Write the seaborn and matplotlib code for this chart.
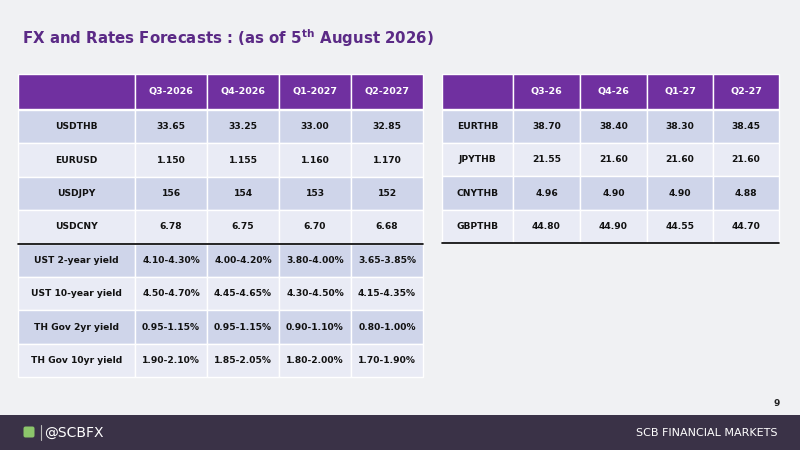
import matplotlib
matplotlib.use("Agg")
import matplotlib.pyplot as plt
import seaborn as sns
from matplotlib.patches import Rectangle, FancyBboxPatch

sns.set_theme(style="white")
plt.rcParams['font.family'] = ['DejaVu Sans']

left_cols = ["Q3-2026", "Q4-2026", "Q1-2027", "Q2-2027"]
left_rows = ["USDTHB", "EURUSD", "USDJPY", "USDCNY",
             "UST 2-year yield", "UST 10-year yield", "TH Gov 2yr yield", "TH Gov 10yr yield"]
usdthb = ["33.65", "33.25", "33.00", "32.85"]
eurusd = ["1.150", "1.155", "1.160", "1.170"]
usdjpy = ["156", "154", "153", "152"]
usdcny = ["6.78", "6.75", "6.70", "6.68"]
ust2 = ["4.10-4.30%", "4.00-4.20%", "3.80-4.00%", "3.65-3.85%"]
ust10 = ["4.50-4.70%", "4.45-4.65%", "4.30-4.50%", "4.15-4.35%"]
th2 = ["0.95-1.15%", "0.95-1.15%", "0.90-1.10%", "0.80-1.00%"]
th10 = ["1.90-2.10%", "1.85-2.05%", "1.80-2.00%", "1.70-1.90%"]
left_vals = [usdthb, eurusd, usdjpy, usdcny, ust2, ust10, th2, th10]

right_cols = ["Q3-26", "Q4-26", "Q1-27", "Q2-27"]
right_rows = ["EURTHB", "JPYTHB", "CNYTHB", "GBPTHB"]
eurthb = ["38.70", "38.40", "38.30", "38.45"]
jpythb = ["21.55", "21.60", "21.60", "21.60"]
cnythb = ["4.96", "4.90", "4.90", "4.88"]
gbpthb = ["44.80", "44.90", "44.55", "44.70"]
right_vals = [eurthb, jpythb, cnythb, gbpthb]

PURPLE = "#7030A0"
ODD = "#CFD5EA"
EVEN = "#E9EBF5"

fig = plt.figure(figsize=(8, 4.5), dpi=100)
fig.patch.set_facecolor("#F0F1F3")
ax = fig.add_axes([0, 0, 1, 1])
ax.set_xlim(0, 800)
ax.set_ylim(450, 0)
ax.axis("off")

def table(xs, y0, hh, rh, cols, rows, vals, line_after=None):
    for i in range(len(xs) - 1):
        ax.add_patch(Rectangle((xs[i], y0), xs[i+1]-xs[i], hh, fc=PURPLE, ec="white", lw=1))
        if i > 0:
            ax.text((xs[i]+xs[i+1])/2, y0+hh/2, cols[i-1], color="white", ha="center",
                    va="center", fontsize=6.8, fontweight="bold")
    y = y0 + hh + 1
    for r, (name, row) in enumerate(zip(rows, vals)):
        c = ODD if r % 2 == 0 else EVEN
        cells = [name] + list(row)
        for i in range(len(xs) - 1):
            ax.add_patch(Rectangle((xs[i], y), xs[i+1]-xs[i], rh, fc=c, ec="white", lw=1))
            ax.text((xs[i]+xs[i+1])/2, y+rh/2, cells[i], color="#111111", ha="center",
                    va="center", fontsize=6.6, fontweight="bold")
        y += rh
        if line_after is not None and r == line_after:
            ax.plot([xs[0], xs[-1]], [y, y], color="black", lw=1.2)
    return y

table([18, 135, 207, 279, 351, 423], 74, 35, 33.4, left_cols, left_rows, left_vals, line_after=3)
yend = table([442, 513, 580, 647, 713, 779], 74, 35, 33.2, right_cols, right_rows, right_vals)
ax.plot([442, 779], [yend, yend], color="black", lw=1.2)

ax.text(22, 38, "FX and Rates Forecasts : (as of 5$^{\\mathregular{th}}$ August 2026)",
        color="#5B2A86", fontsize=10.8, fontweight="bold", va="center", ha="left")

ax.text(780, 403, "9", fontsize=6.5, fontweight="bold", color="#222222", ha="right", va="center")

ax.add_patch(Rectangle((0, 415), 800, 35, fc="#3A3247", ec="none"))
ax.add_patch(FancyBboxPatch((24, 427), 10, 10, boxstyle="round,pad=0.5,rounding_size=2",
                            fc="#8CC66B", ec="none"))
ax.plot([41, 41], [425, 440], color="#BBBBBB", lw=0.8)
ax.text(44, 433, "@SCBFX", color="white", fontsize=10, va="center", ha="left")
ax.text(778, 433, "SCB FINANCIAL MARKETS", color="white", fontsize=8, va="center", ha="right")

fig.savefig("out.png", dpi=100, facecolor=fig.get_facecolor())
